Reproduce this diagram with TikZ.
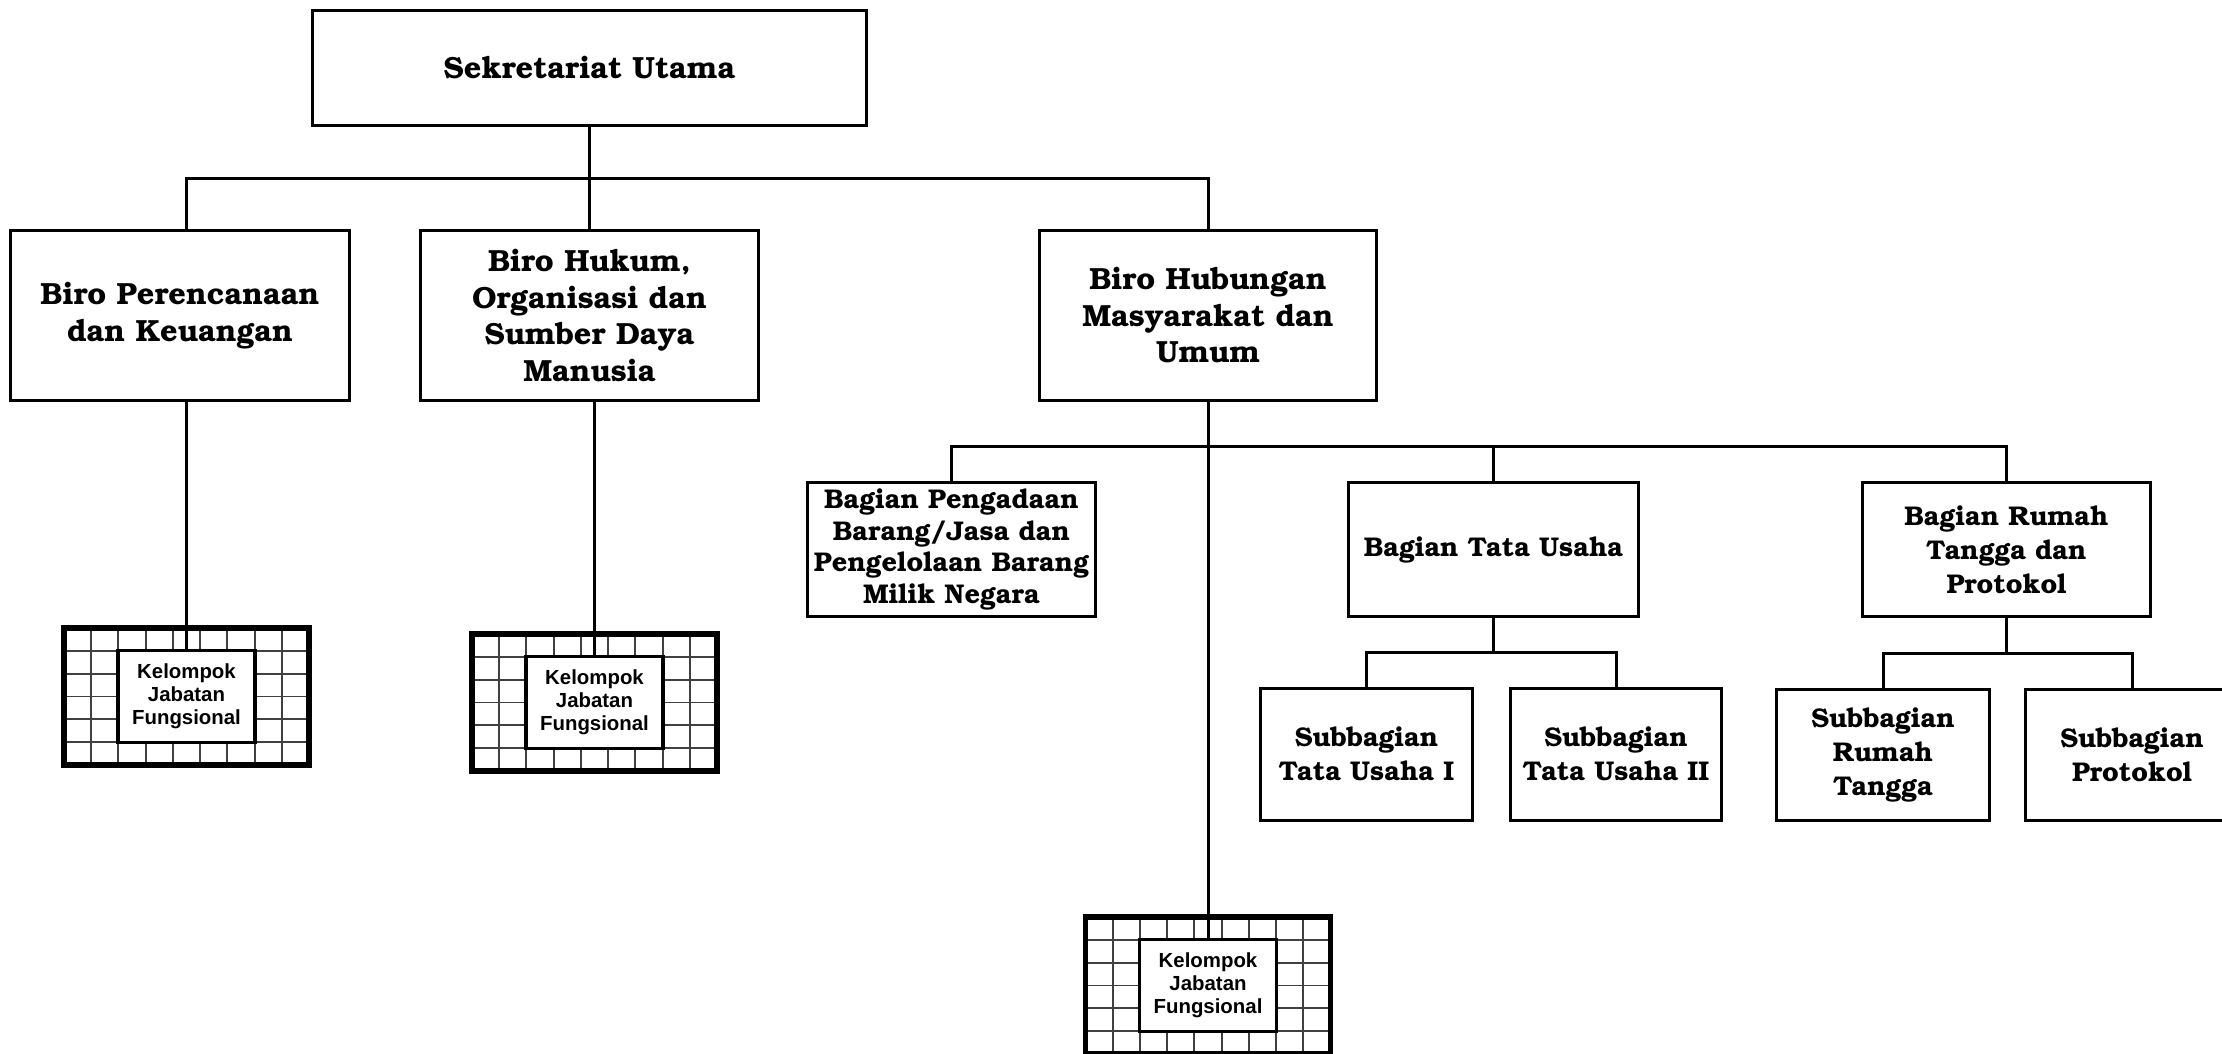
\documentclass[tikz,border=0pt]{standalone}
\usepackage[T1]{fontenc}
\usepackage{fontspec}
\newfontfamily\kjffont{Liberation Sans}
\newcommand\bkmfont{\fontencoding{T1}\fontfamily{pbk}\fontseries{b}\selectfont}

\begin{document}
\begin{tikzpicture}[x=0.01cm,y=-0.01cm,
  unit/.style={draw,line width=0.85pt,align=center,inner sep=0pt,
    font=\bkmfont\fontsize{7.7}{9.7}\selectfont},
  bigunit/.style={unit,font=\bkmfont\fontsize{8.7}{10.4}\selectfont},
  link/.style={line width=0.85pt},
  gridline/.style={black!75,line width=0.55pt},
  kjfgrid/.style={draw,line width=1.5pt,minimum width=2.45cm,minimum height=1.37cm,
    path picture={
      \foreach \col in {1,...,8}
        \draw[gridline] ([xshift=\col*0.2722cm]path picture bounding box.north west)
          -- ([xshift=\col*0.2722cm]path picture bounding box.south west);
      \foreach \row in {1,...,5}
        \draw[gridline] ([yshift=-\row*0.2283cm]path picture bounding box.north west)
          -- ([yshift=-\row*0.2283cm]path picture bounding box.north east);
    }},
  kjfin/.style={draw,fill=white,line width=0.9pt,minimum width=1.37cm,minimum height=0.92cm,
    inner sep=0pt,align=center,font=\kjffont\bfseries\fontsize{5.8}{6.6}\selectfont}]
\useasboundingbox (0,0) rectangle (2222,1053);
\fill[white] (0,0) rectangle (2222,1053);
\clip (0,0) rectangle (2222,1053);

% top
\node[bigunit,minimum width=5.53cm,minimum height=1.14cm] (sekut) at (589.5,68) {Sekretariat Utama};

% biro
\node[bigunit,minimum width=3.38cm,minimum height=1.69cm] (bpk) at (180,315.5) {Biro Perencanaan\\dan Keuangan};
\node[bigunit,minimum width=3.37cm,minimum height=1.69cm] (bhosdm) at (589.5,315.5) {Biro Hukum,\\Organisasi dan\\Sumber Daya\\Manusia};
\node[bigunit,minimum width=3.36cm,minimum height=1.69cm] (bhmu) at (1208,315.5) {Biro Hubungan\\Masyarakat dan\\Umum};

% bagian
\node[unit,minimum width=2.87cm,minimum height=1.33cm,font=\bkmfont\fontsize{7.7}{9}\selectfont] (bpbj) at (951.5,549.5) {Bagian Pengadaan\\Barang/Jasa dan\\Pengelolaan Barang\\Milik Negara};
\node[unit,minimum width=2.89cm,minimum height=1.33cm] (btu) at (1493.5,549.5) {Bagian Tata Usaha};
\node[unit,minimum width=2.87cm,minimum height=1.33cm] (brtp) at (2006.5,549.5) {Bagian Rumah\\Tangga dan\\Protokol};

% subbagian
\node[unit,minimum width=2.11cm,minimum height=1.31cm] (stu1) at (1366.5,754.5) {Subbagian\\Tata Usaha I};
\node[unit,minimum width=2.11cm,minimum height=1.31cm] (stu2) at (1616,754.5) {Subbagian\\Tata Usaha II};
\node[unit,minimum width=2.12cm,minimum height=1.31cm] (srt) at (1883,755) {Subbagian\\Rumah\\Tangga};
\node[unit,minimum width=2.12cm,minimum height=1.31cm] (sprot) at (2132,755) {Subbagian\\Protokol};

% kelompok jabatan fungsional
\node[kjfgrid] (kjf1) at (186.5,696.5) {};
\node[kjfin] (kjf1in) at (kjf1) {Kelompok\\Jabatan\\Fungsional};
\node[kjfgrid] (kjf2) at (594.5,702.5) {};
\node[kjfin] (kjf2in) at (kjf2) {Kelompok\\Jabatan\\Fungsional};
\node[kjfgrid] (kjf3) at (1208,985.5) {};
\node[kjfin] (kjf3in) at (kjf3) {Kelompok\\Jabatan\\Fungsional};

% garis
\coordinate (busA) at (589.5,178.5);
\coordinate (busB) at (1208,446);
\coordinate (busC) at (1493.5,652);
\coordinate (busD) at (2006.5,653);
\draw[link] (sekut.south) -- (bhosdm.north);
\draw[link] (kjf1.north |- bpk.north) |- (busA) -| (bhmu.north);
\draw[link] (kjf1.north |- bpk.south) -- (kjf1in.north);
\draw[link] (kjf2.north |- bhosdm.south) -- (kjf2in.north);
\draw[link] (bhmu.south) -- (kjf3in.north);
\draw[link] (bpbj.north) |- (busB) -| (brtp.north);
\draw[link] (btu.north) -- (btu.north |- busB);
\draw[link] (btu.south) -- (busC);
\draw[link] (stu1.north) |- (busC) -| (stu2.north);
\draw[link] (brtp.south) -- (busD);
\draw[link] (srt.north) |- (busD) -| (sprot.north);
\end{tikzpicture}
\end{document}
